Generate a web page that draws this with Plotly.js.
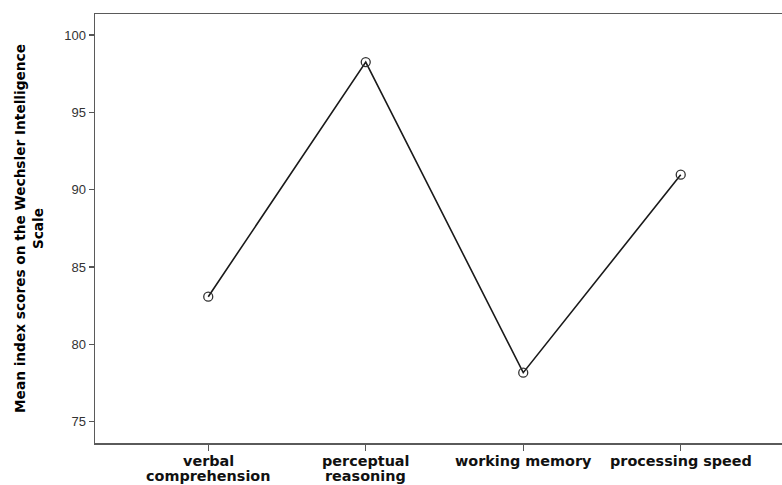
<!DOCTYPE html>
<html>
<head>
<meta charset="utf-8">
<script src="https://cdn.plot.ly/plotly-3.0.1.min.js"></script>
<style>
html, body { margin: 0; padding: 0; background: #fff; overflow: hidden; }
#chart { width: 782px; height: 485px; }
</style>
</head>
<body>
<div id="chart"></div>
<script>
const categories = ["verbal comprehension", "perceptual reasoning", "working memory", "processing speed"];
const tickLabelLine1 = ["verbal", "perceptual", "working memory", "processing speed"];
const tickLabelLine2 = ["comprehension", "reasoning", "", ""];
const meanScores = [83.08, 98.25, 78.17, 90.97];
const yTickValues = [75, 80, 85, 90, 95, 100];
const yAxisTitle = "Mean index scores on the Wechsler Intelligence<br>Scale";

const trace = {
  x: categories,
  y: meanScores,
  type: "scatter",
  mode: "lines+markers",
  line: { color: "#1a1a1a", width: 1.6 },
  marker: { symbol: "circle-open", size: 9, color: "#333", line: { width: 1.3, color: "#333" } },
  hoverinfo: "skip"
};

const labelFont = { family: "DejaVu Sans, Verdana, sans-serif", size: 14.4, color: "#111", weight: "bold" };
const annotations = [];
categories.forEach((c, i) => {
  annotations.push({
    xref: "x", yref: "paper", x: c, y: 0, yanchor: "middle", xanchor: "center",
    yshift: -18, text: tickLabelLine1[i], showarrow: false, font: labelFont,
    borderpad: 0
  });
  if (tickLabelLine2[i]) {
    annotations.push({
      xref: "x", yref: "paper", x: c, y: 0, yanchor: "middle", xanchor: "center",
      yshift: -33, text: tickLabelLine2[i], showarrow: false, font: labelFont,
      borderpad: 0
    });
  }
});
annotations.push({
  xref: "paper", yref: "paper", x: -0.0968, y: 0.5, xanchor: "center", yanchor: "middle",
  textangle: -90, text: yAxisTitle, showarrow: false,
  font: { family: "DejaVu Sans, Verdana, sans-serif", size: 13.7, color: "#000", weight: "bold" }
});

const layout = {
  width: 782,
  height: 485,
  margin: { l: 95, r: 0, t: 14, b: 42 },
  paper_bgcolor: "#fff",
  plot_bgcolor: "#fff",
  showlegend: false,
  font: { family: "Liberation Sans, Arial, sans-serif", color: "#000" },
  xaxis: {
    type: "category",
    categoryarray: categories,
    range: [-0.719, 3.643],
    showgrid: false,
    zeroline: false,
    showline: true,
    linecolor: "#5a5a5a",
    linewidth: 1.5,
    mirror: true,
    ticks: "outside",
    ticklen: 6,
    tickwidth: 1.3,
    tickcolor: "#555",
    showticklabels: false,
    automargin: false
  },
  yaxis: {
    range: [73.62, 101.36],
    tickvals: yTickValues,
    showgrid: false,
    zeroline: false,
    showline: true,
    linecolor: "#5a5a5a",
    linewidth: 1.5,
    ticks: "outside",
    ticklen: 5,
    tickwidth: 1.3,
    tickcolor: "#555",
    tickfont: { family: "Liberation Sans, Arial, sans-serif", size: 13, color: "#333" },
    automargin: false
  },
  annotations: annotations
};

Plotly.newPlot("chart", [trace], layout, { displayModeBar: false, staticPlot: true });
</script>
</body>
</html>
